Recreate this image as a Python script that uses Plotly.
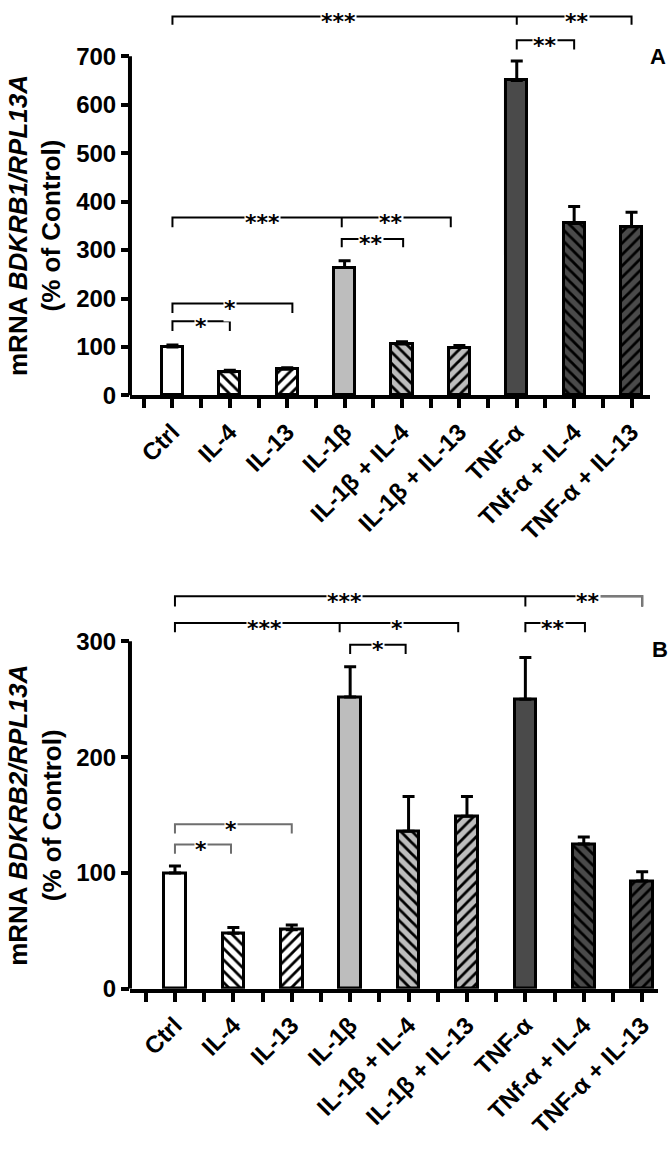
import plotly.graph_objects as go

categories = ["Ctrl", "IL-4", "IL-13", "IL-1β", "IL-1β + IL-4", "IL-1β + IL-13",
              "TNF-α", "TNf-α + IL-4", "TNF-α + IL-13"]
positions = list(range(len(categories)))

b1_values = [100, 49, 54, 264, 106, 99, 650, 355, 348]
b1_errors = [4, 3, 3, 14, 5, 4, 40, 35, 30]
b2_values = [100, 48, 51, 252, 136, 149, 250, 125, 93]
b2_errors = [6, 5, 4, 26, 30, 17, 36, 6, 8]

fill_colors = ["white", "white", "white", "#bdbdbd", "#bdbdbd", "#bdbdbd",
               "#4a4a4a", "#4a4a4a", "#4a4a4a"]
hatches = ["", "\\", "/", "", "\\", "/", "", "\\", "/"]

top_ticks = [0, 100, 200, 300, 400, 500, 600, 700]
bottom_ticks = [0, 100, 200, 300]

# significance brackets: (x_start, x_end, x_mid or None, y_line, y_end)
top_brackets = [
    (0, 8, 6, 782, 765),
    (6, 7, None, 733, 714),
    (0, 4.85, 2.95, 367, 347),
    (2.95, 4.02, None, 323, 306),
    (0, 2.09, None, 190, 170),
    (0, 1.0, None, 153, 133),
]
top_stars = [("***", 2.9, 782), ("**", 7.05, 782), ("**", 6.5, 733),
             ("***", 1.57, 367), ("**", 3.8, 367), ("**", 3.46, 323),
             ("*", 1.0, 190), ("*", 0.49, 153)]

bottom_brackets = [
    (0, 8, 6, 339, 330),
    (0, 4.85, 2.82, 315.7, 307.8),
    (3.0, 3.95, None, 297, 289),
    (6.0, 7.02, None, 315.7, 307.8),
]
bottom_gray_brackets = [
    (0, 2.0, None, 142, 134),
    (0, 0.96, None, 124.6, 116.6),
]
# grey tail of the long bracket in panel B: (x_start, x_end, y_line, y_end)
bottom_gray_tail = (7.07, 8, 339, 330)
bottom_stars = [("***", 2.9, 339), ("**", 7.07, 339), ("***", 1.54, 315.7),
                ("*", 3.8, 315.7), ("*", 3.47, 297), ("**", 6.47, 315.7),
                ("*", 0.96, 142), ("*", 0.45, 124.6)]

FONT = "Liberation Sans, Arial, sans-serif"
fig = go.Figure()


def add_bars(values, errors, xa, ya):
    for i in positions:
        fig.add_trace(go.Bar(
            x=[positions[i]], y=[values[i]], width=0.37,
            xaxis=xa, yaxis=ya, showlegend=False,
            marker=dict(
                color=fill_colors[i],
                line=dict(color="black", width=3),
                pattern=dict(shape=hatches[i], fgcolor="black",
                             bgcolor=fill_colors[i], size=8, solidity=0.35,
                             fillmode="replace"),
            ),
            error_y=dict(type="data", symmetric=False, array=[errors[i]],
                         arrayminus=[0], color="black", thickness=3, width=6),
        ))


def add_brackets(brackets, xa, ya, color="black"):
    xs, ys = [], []
    for (x0, x1, xm, yl, ye) in brackets:
        xs += [x0, x0, x1, x1, None]
        ys += [ye, yl, yl, ye, None]
        if xm is not None:
            xs += [xm, xm, None]
            ys += [yl, ye, None]
    fig.add_trace(go.Scatter(x=xs, y=ys, mode="lines", xaxis=xa, yaxis=ya,
                             line=dict(color=color, width=2), showlegend=False,
                             hoverinfo="skip"))


add_bars(b1_values, b1_errors, "x", "y")
add_bars(b2_values, b2_errors, "x2", "y2")
add_brackets(top_brackets, "x", "y")
add_brackets(bottom_brackets, "x2", "y2")
add_brackets(bottom_gray_brackets, "x2", "y2", color="#6e6e6e")
tx0, tx1, tyl, tye = bottom_gray_tail
fig.add_trace(go.Scatter(x=[tx0, tx1, tx1], y=[tyl, tyl, tye], mode="lines",
                         xaxis="x2", yaxis="y2", line=dict(color="#7a7a7a", width=2.2),
                         showlegend=False, hoverinfo="skip"))

star_font = dict(family="DejaVu Sans", size=22, color="black", weight="bold")
annotations = []
for (txt, xv, yv) in top_stars:
    annotations.append(dict(text=txt, x=xv, y=yv, xref="x", yref="y", showarrow=False,
                            bgcolor="white", yshift=-5, borderpad=0, font=star_font))
for (txt, xv, yv) in bottom_stars:
    annotations.append(dict(text=txt, x=xv, y=yv, xref="x2", yref="y2", showarrow=False,
                            bgcolor="white", yshift=-5, borderpad=0, font=star_font))

title_font = dict(family=FONT, size=26, color="black", weight="bold")
annotations += [
    dict(text="A", x=0.982, y=0.951, xref="paper", yref="paper", showarrow=False,
         xanchor="center", yanchor="middle",
         font=dict(family=FONT, size=22, color="black", weight="bold")),
    dict(text="B", x=0.985, y=0.432, xref="paper", yref="paper", showarrow=False,
         xanchor="center", yanchor="middle",
         font=dict(family=FONT, size=22, color="black", weight="bold")),
    dict(text="mRNA <i>BDKRB1/RPL13A</i><br>(% of Control)", x=0.052, y=0.803,
         xref="paper", yref="paper", showarrow=False, textangle=-90,
         xanchor="center", yanchor="middle", font=title_font),
    dict(text="mRNA <i>BDKRB2/RPL13A</i><br>(% of Control)", x=0.052, y=0.287,
         xref="paper", yref="paper", showarrow=False, textangle=-90,
         xanchor="center", yanchor="middle", font=title_font),
]

half_ticks = [i * 0.5 for i in range(-1, 17)]
half_text = [categories[int(v)] if float(v).is_integer() and v >= 0 else "" for v in half_ticks]

xcommon = dict(tickmode="array", tickvals=half_ticks, ticktext=half_text,
               tickangle=-45, ticks="outside", ticklen=9, tickwidth=3.5,
               tickcolor="black", showline=True, linecolor="black", linewidth=4,
               showgrid=False, zeroline=False,
               tickfont=dict(family=FONT, size=24, color="black", weight="bold"))
ycommon = dict(ticks="outside", ticklen=8, tickwidth=3.5, tickcolor="black",
               showline=False, showgrid=False, zeroline=False,
               tickfont=dict(family=FONT, size=24, color="black", weight="bold"))

fig.update_layout(
    width=670, height=1156, autosize=False,
    margin=dict(l=0, r=0, t=0, b=0),
    paper_bgcolor="white", plot_bgcolor="white",
    bargap=0, showlegend=False,
    xaxis=dict(domain=[0.194, 0.970], range=[-0.74, 8.32], anchor="y", **xcommon),
    yaxis=dict(domain=[0.654, 1.0], range=[0, 816], anchor="x",
               tickvals=top_ticks, **ycommon),
    xaxis2=dict(domain=[0.194, 0.982], range=[-0.77, 8.27], anchor="y2", **xcommon),
    yaxis2=dict(domain=[0.1349, 0.4896], range=[0, 350], anchor="x2",
                tickvals=bottom_ticks, **ycommon),
    annotations=annotations,
    shapes=[
        dict(type="line", xref="x domain", yref="y", x0=0, x1=0, y0=0, y1=700,
             line=dict(color="black", width=4)),
        dict(type="line", xref="x2 domain", yref="y2", x0=0, x1=0, y0=0, y1=300,
             line=dict(color="black", width=4)),
    ],
)

fig.write_html("out.html", config={"displayModeBar": False},
               post_script="document.body.style.margin='0px';")
